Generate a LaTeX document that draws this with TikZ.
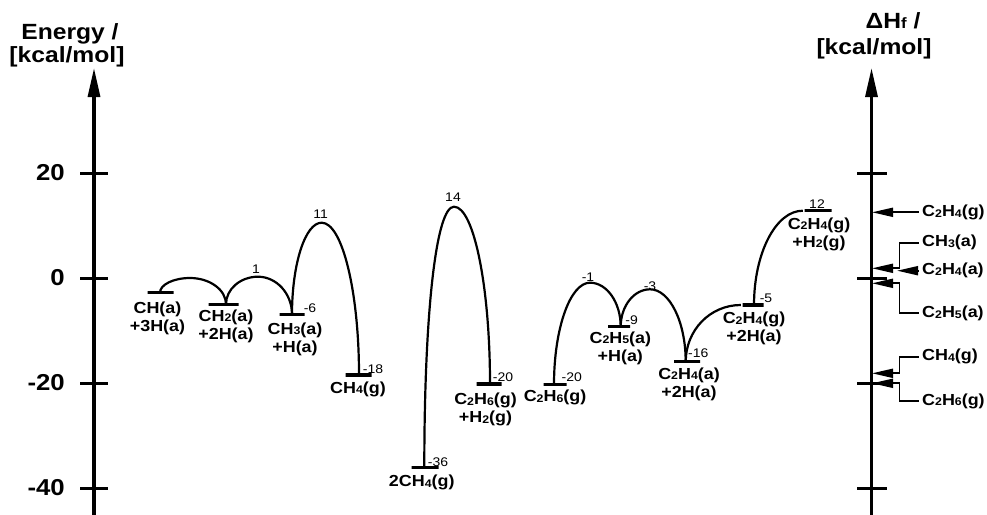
\documentclass[tikz,border=0pt]{standalone}
\usepackage{fontspec}
\setmainfont{Liberation Sans}[FakeStretch=1.12]
\usetikzlibrary{arrows.meta}
% small lowered digit for chemical formulas
\newcommand\lowd[1]{\raisebox{-0.8pt}{\fontsize{11}{11}\selectfont #1}}

\tikzset{
  axisline/.style={line width=3.2pt, -{Triangle[length=29pt,width=12pt]}},
  tickline/.style={line width=3pt},
  level/.style={draw, line width=3.4pt, shape=rectangle, inner sep=0pt,
    minimum height=0pt, minimum width=#1},
  path/.style={line width=2.2pt},
  ptr/.style={line width=1.9pt, -{Triangle[length=21pt,width=9pt]}},
  title/.style={font=\fontsize{22}{22}\selectfont\bfseries, inner sep=0pt},
  ticklbl/.style={font=\fontsize{23}{23}\selectfont\bfseries, anchor=east, inner sep=0pt},
  species/.style={font=\fontsize{16}{18}\selectfont\bfseries, align=center, inner sep=0pt},
  val/.style={font=\fontsize{12.5}{12.5}\selectfont, inner sep=0pt},
  rlbl/.style={font=\fontsize{16}{18}\selectfont\bfseries, anchor=west, inner sep=3.5pt},
}

\begin{document}
\begin{tikzpicture}[x=1pt,y=-1pt]
\useasboundingbox (0,0) rectangle (987,514);

% ---------------- energy axis (left) ----------------
\coordinate (eBase) at (94,516);
\coordinate (eTop) at (94,68);
\draw[axisline] (eBase) -- (eTop);
\foreach \yy in {173,278,383,488} \draw[tickline] (80,\yy) -- (108,\yy);
\node[ticklbl] (t20) at (65,173) {20};
\node[ticklbl] (t0) at (65,278) {0};
\node[ticklbl] (tm20) at (65,383) {-20};
\node[ticklbl] (tm40) at (65,488) {-40};
\node[title] (eTitleA) at (70,34) {Energy /};
\node[title] (eTitleB) at (67,57) {[kcal/mol]};

% ---------------- enthalpy axis (right) ----------------
\coordinate (hBase) at (871.5,516);
\coordinate (hTop) at (871.5,68);
\draw[axisline] (hBase) -- (hTop);
\foreach \yy in {173,278,383,488} \draw[tickline] (857,\yy) -- (887,\yy);
\node[title] (hTitleA) at (893,21) {ΔH{\fontsize{15}{15}\selectfont f} /};
\node[title] (hTitleB) at (874,49) {[kcal/mol]};

% ---------------- levels ----------------
\node[level=26pt] (ch)     at (160.5,292.7) {};
\node[level=30pt] (ch2)    at (223.5,304.3) {};
\node[level=25pt] (ch3)    at (292,314.3) {};
\node[level=26pt] (ch4)    at (358.5,375) {};
\node[level=27pt] (ch4x2)  at (425,467.7) {};
\node[level=25pt] (c2h6h2) at (489,384) {};
\node[level=23pt] (c2h6)   at (555,384.3) {};
\node[level=22pt] (c2h5)   at (619,326.7) {};
\node[level=26pt] (c2h4a)  at (687,361.7) {};
\node[level=21pt] (c2h4g)  at (753,305) {};
\node[level=27pt] (c2h4gh2) at (818,210.7) {};

% barrier tops
\coordinate (top1) at (190,278);
\coordinate (top2) at (258,276.7);
\coordinate (top3) at (321.7,222.7);
\coordinate (top4) at (454,206.7);
\coordinate (top5) at (590,282.7);
\coordinate (top6) at (650,289.3);

% ---------------- reaction paths ----------------
\draw[path] ([xshift=-0.5pt]ch.center) .. controls +(0,-8.1) and +(-16.5,0) .. (top1)
  .. controls +(19.8,0) and +(0,-14.5) .. ([xshift=2.5pt]ch2.center);
\draw[path] ([xshift=2.5pt]ch2.center) .. controls +(0,-15.2) and +(-17.6,0) .. (top2)
  .. controls +(18.5,0) and +(0,-20.7) .. (ch3.center);
\draw[path] (ch3.center) .. controls +(0,-50.4) and +(-16.5,0) .. (top3)
  .. controls +(20.5,0) and +(0,-83.8) .. ([xshift=0.5pt]ch4.center);
\draw[path] ([xshift=-0.7pt]ch4x2.center) .. controls +(0,-156.6) and +(-17.8,0) .. (top4)
  .. controls +(19.8,0) and +(0,-97.5) .. ([xshift=1pt]c2h6h2.center);
\draw[path] ([xshift=-1pt]c2h6.center) .. controls +(0,-55.9) and +(-19.8,0) .. (top5)
  .. controls +(16.9,0) and +(0,-24.2) .. ([xshift=1.7pt]c2h5.center);
\draw[path] ([xshift=1.7pt]c2h5.center) .. controls +(0,-20.6) and +(-16.1,0) .. (top6)
  .. controls +(19.6,0) and +(0,-39.8) .. ([xshift=-1.3pt]c2h4a.center);
\draw[path] ([xshift=-1.3pt]c2h4a.center) .. controls +(0,-31.2) and +(-31,0) .. (c2h4g.west);
\draw[path] ([xshift=1pt]c2h4g.center) .. controls +(0,-51.9) and +(-27,0) .. (c2h4gh2.west);

% ---------------- energy values ----------------
\node[val] (v1)   at (256,269) {1};
\node[val] (v11)  at (320.7,214) {11};
\node[val] (vm6)  at (310,307.7) {-6};
\node[val] (vm18) at (373,369) {-18};
\node[val] (v14)  at (453,197) {14};
\node[val] (vm36) at (438,461.7) {-36};
\node[val] (vm20a) at (503,377) {-20};
\node[val] (vm20b) at (571.7,377) {-20};
\node[val] (vm1)  at (588,276.7) {-1};
\node[val] (vm9)  at (631.7,320) {-9};
\node[val] (vm3)  at (650,286) {-3};
\node[val] (vm16) at (698.3,353.3) {-16};
\node[val] (vm5)  at (766,298.3) {-5};
\node[val] (v12)  at (817,204) {12};

% ---------------- species ----------------
\node[species] (sCH)    at (157.5,318) {CH(a)\\+3H(a)};
\node[species] (sCH2)   at (226,326) {CH\lowd{2}(a)\\+2H(a)};
\node[species] (sCH3)   at (295,339) {CH\lowd{3}(a)\\+H(a)};
\node[species] (sCH4)   at (358,389) {CH\lowd{4}(g)};
\node[species] (s2CH4)  at (421.7,482.7) {2CH\lowd{4}(g)};
\node[species] (sC2H6H2) at (485.5,409.7) {C\lowd{2}H\lowd{6}(g)\\+H\lowd{2}(g)};
\node[species] (sC2H6)  at (555,397.3) {C\lowd{2}H\lowd{6}(g)};
\node[species] (sC2H5)  at (620.3,348) {C\lowd{2}H\lowd{5}(a)\\+H(a)};
\node[species] (sC2H4a) at (689,384) {C\lowd{2}H\lowd{4}(a)\\+2H(a)};
\node[species] (sC2H4g) at (754,328.8) {C\lowd{2}H\lowd{4}(g)\\+2H(a)};
\node[species] (sC2H4gH2) at (819,234) {C\lowd{2}H\lowd{4}(g)\\+H\lowd{2}(g)};

% ---------------- heats of formation ----------------
\node[rlbl] (hC2H4g) at (918.5,212.3) {C\lowd{2}H\lowd{4}(g)};
\node[rlbl] (hCH3)   at (918.5,242.7) {CH\lowd{3}(a)};
\node[rlbl] (hC2H4a) at (918.5,270.7) {C\lowd{2}H\lowd{4}(a)};
\node[rlbl] (hC2H5)  at (918.5,313.3) {C\lowd{2}H\lowd{5}(a)};
\node[rlbl] (hCH4)   at (918.5,356.7) {CH\lowd{4}(g)};
\node[rlbl] (hC2H6)  at (918.5,401) {C\lowd{2}H\lowd{6}(g)};

\coordinate (pC2H4g) at (872,212.3);
\coordinate (pCH3)   at (872,268.3);
\coordinate (pC2H4a) at (897,270.7);
\coordinate (pC2H5)  at (872,283.3);
\coordinate (pCH4)   at (872,373.3);
\coordinate (pC2H6)  at (872,383.3);

\draw[ptr] (hC2H4g.west) -- (pC2H4g);
\draw[ptr] (hCH3.west) -- ++(-19,0) |- (pCH3);
\draw[ptr] (hC2H4a.west) -- (pC2H4a);
\draw[ptr] (hC2H5.west) -- ++(-19,0) |- (pC2H5);
\draw[ptr] (hCH4.west) -- ++(-19,0) |- (pCH4);
\draw[ptr] (hC2H6.west) -- ++(-19,0) |- (pC2H6);
\end{tikzpicture}
\end{document}
